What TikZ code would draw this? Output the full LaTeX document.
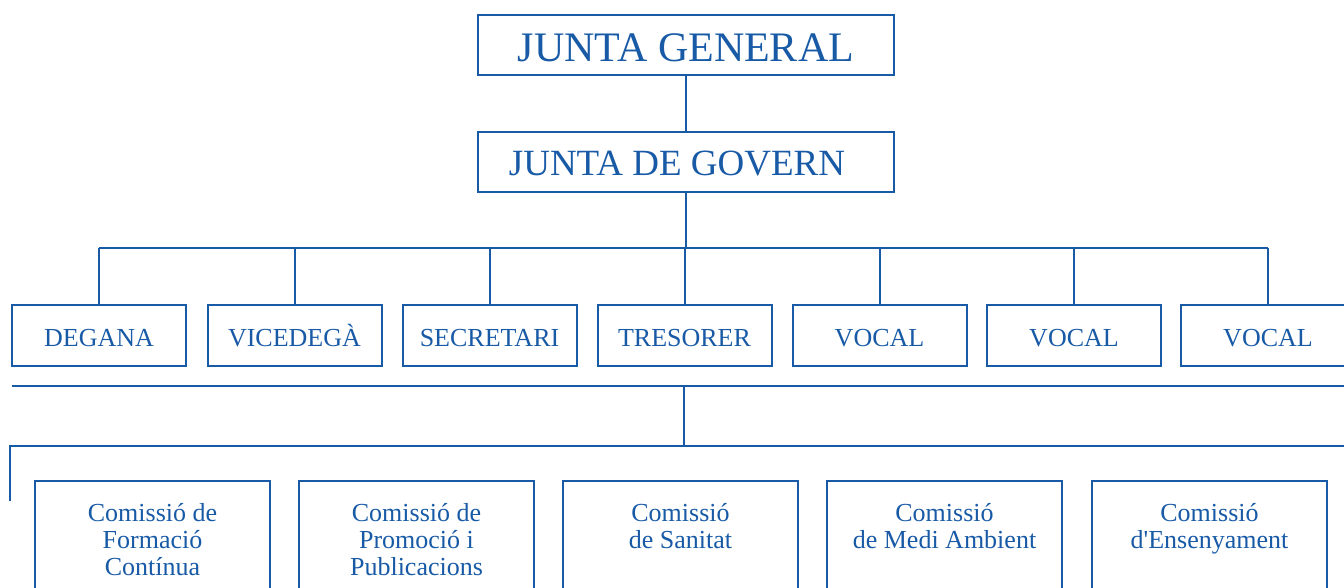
\documentclass[tikz,border=0pt]{standalone}
\usepackage{fontspec}
\setmainfont{Liberation Serif}
\definecolor{orgblue}{RGB}{24,90,166}
\begin{document}
\begin{tikzpicture}[x=1pt,y=-1pt,
  every node/.style={text=orgblue},
  bigbox/.style={draw=orgblue, line width=2.2pt, minimum width=416pt, minimum height=60pt, inner sep=0pt},
  rolebox/.style={draw=orgblue, line width=2pt, minimum width=174pt, minimum height=61pt, inner sep=0pt, text height=22pt, text depth=0pt, font=\fontsize{26}{28}\selectfont},
  combox/.style={draw=orgblue, line width=2pt, minimum width=235pt, minimum height=140pt, inner sep=0pt, anchor=north},
  comtext/.style={anchor=north, align=center, inner sep=0pt, font=\fontsize{26}{27}\selectfont},
  link/.style={draw=orgblue, line width=2pt}]
\useasboundingbox (0,0) rectangle (1344,587);
\clip (0,0) rectangle (1344,587);
% top
\node[bigbox, text height=32pt, text depth=0pt, font=\fontsize{42}{44}\selectfont] (gen) at (686,45) {JUNTA GENERAL};
\node[bigbox] (gov) at (686,162) {};
\node[font=\fontsize{37}{40}\selectfont, inner sep=0pt, text height=26pt, text depth=0pt] (govt) at (677,162) {JUNTA DE GOVERN};
\draw[link] (gen.south) -- (gov.north);
% role row
\node[rolebox] (r1) at (99,335.5) {DEGANA};
\node[rolebox] (r2) at (294.5,335.5) {VICEDEGÀ};
\node[rolebox] (r3) at (489.5,335.5) {SECRETARI};
\node[rolebox] (r4) at (684.5,335.5) {TRESORER};
\node[rolebox] (r5) at (879.5,335.5) {VOCAL};
\node[rolebox] (r6) at (1074,335.5) {VOCAL};
\node[rolebox] (r7) at (1268,335.5) {VOCAL};
\coordinate (bus) at (686,248);
\draw[link] (gov.south) -- (bus);
\draw[link] (r1.north |- bus) -- (r7.north |- bus);
\foreach \r in {r1,r2,r3,r4,r5,r6,r7} \draw[link] (\r.north |- bus) -- (\r.north);
% lower bars
\coordinate (barA) at (12,386);
\coordinate (barAr) at (1350,386);
\coordinate (drop) at (684,386);
\coordinate (barB) at (10,446);
\coordinate (barBr) at (1350,446);
\coordinate (tick) at (10,501);
\draw[link] (barA) -- (barAr);
\draw[link] (drop) -- (drop |- barB);
\draw[link] (tick) -- (barB) -- (barBr);
% commissions
\node[combox] (c1) at (152.5,480) {};
\node[combox] (c2) at (416.5,480) {};
\node[combox] (c3) at (680.5,480) {};
\node[combox] (c4) at (944.5,480) {};
\node[combox] (c5) at (1209.5,480) {};
\node[comtext] (t1) at ([yshift=-23pt]c1.north) {Comissió de\\Formació\\Contínua};
\node[comtext] (t2) at ([yshift=-23pt]c2.north) {Comissió de\\Promoció i\\Publicacions};
\node[comtext] (t3) at ([yshift=-23pt]c3.north) {Comissió\\de Sanitat};
\node[comtext] (t4) at ([yshift=-23pt]c4.north) {Comissió\\de Medi Ambient};
\node[comtext] (t5) at ([yshift=-23pt]c5.north) {Comissió\\d\textquotesingle Ensenyament};
\end{tikzpicture}
\end{document}
